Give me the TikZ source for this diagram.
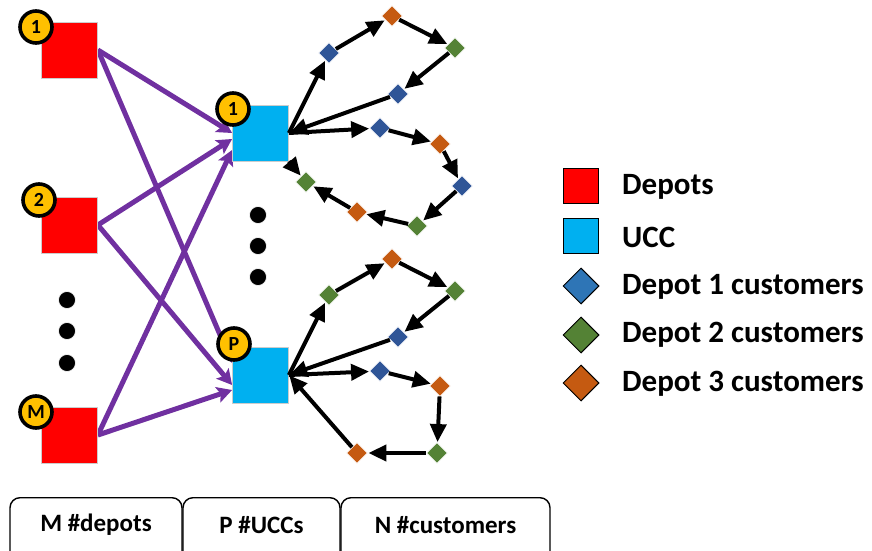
\documentclass[tikz,border=0pt]{standalone}
\usepackage{fontspec}
\setmainfont{Carlito}
\usetikzlibrary{shapes.geometric,arrows.meta,calc}
\definecolor{depotred}{HTML}{FF0000}
\definecolor{ucccyan}{HTML}{00B0F0}
\definecolor{badgeyel}{HTML}{FFC000}
\definecolor{purp}{HTML}{7030A0}
\definecolor{cblue}{HTML}{2F5597}
\definecolor{cgreen}{HTML}{548235}
\definecolor{corange}{HTML}{C55A11}
\definecolor{lblue}{HTML}{2E75B6}
\tikzset{
  depot/.style={rectangle, fill=depotred, draw=black!20, line width=0.8pt, minimum size=56pt, inner sep=0pt},
  ucc/.style={rectangle, fill=ucccyan, draw=black!20, line width=0.8pt, minimum size=56pt, inner sep=0pt},
  badge/.style={circle, fill=badgeyel, draw=black, line width=3.6pt, minimum size=32pt, inner sep=0pt, font=\fontsize{20}{20}\selectfont\bfseries},
  cust/.style={diamond, draw=white, line width=0.8pt, minimum width=21pt, minimum height=21pt, inner sep=0pt},
  cb/.style={cust, fill=cblue},
  cg/.style={cust, fill=cgreen},
  co/.style={cust, fill=corange},
  dotc/.style={circle, fill=black, draw=white, line width=0.6pt, minimum size=17pt, inner sep=0pt},
  parr/.style={draw=purp, line width=5pt, -{Stealth[length=15pt,width=16pt,inset=3pt]}},
  barr/.style={draw=black, line width=4pt, -{Triangle[length=18pt,width=16pt]}, shorten >=0.5pt},
  legsq/.style={rectangle, draw=black, line width=1pt, minimum size=35pt, inner sep=0pt},
  legdi/.style={diamond, draw=black, line width=1pt, minimum width=36pt, minimum height=36pt, inner sep=0pt},
  legtxt/.style={anchor=west, inner sep=0pt, font=\fontsize{31}{31}\selectfont\bfseries},
  boxst/.style={rectangle, rounded corners=10pt, draw=black, line width=1.4pt, minimum height=70pt, anchor=north, inner sep=0pt},
  boxtxt/.style={inner sep=0pt, font=\fontsize{25}{25}\selectfont\bfseries}
}
\begin{document}
\begin{tikzpicture}[x=1pt,y=-1pt]
\useasboundingbox (0,0) rectangle (872,551);
% depots and UCCs
\node[depot] (d1) at (69.5,50) {};
\node[depot] (d2) at (69.5,225) {};
\node[depot] (dm) at (69.5,435) {};
\node[ucc] (u1) at (260.5,133) {};
\node[ucc] (up) at (260.5,375) {};
% purple arrows
\draw[parr] (d1.east) -- ([yshift=0pt]u1.west);
\draw[parr] (d2.east) -- ([yshift=-6pt]u1.west);
\draw[parr] (dm.east) -- ([yshift=-17pt]u1.west);
\draw[parr] (d1.east) -- ([yshift=12pt]up.west);
\draw[parr] (d2.east) -- ([yshift=-10pt]up.west);
\draw[parr] (dm.east) -- ([yshift=-15pt]up.west);
% redraw squares on top
\node[depot] at (d1) {};
\node[depot] at (d2) {};
\node[depot] at (dm) {};
\node[ucc] at (u1) {};
\node[ucc] at (up) {};
% badges
\node[badge] (bd1) at (36,27) {1};
\node[badge] (bd2) at (39,200) {2};
\node[badge] (bdm) at (36,412) {M};
\node[badge] (bu1) at (233,109) {1};
\node[badge] (bup) at (234,344) {P};
% dots
\node[dotc] (l1) at (67,300) {};
\node[dotc] (l2) at (67,331) {};
\node[dotc] (l3) at (67,363) {};
\node[dotc] (m1) at (258,215) {};
\node[dotc] (m2) at (258,246) {};
\node[dotc] (m3) at (258,277) {};
% cluster 1
\node[cb] (a1) at (329,53) {};
\node[co] (a2) at (392,16) {};
\node[cg] (a3) at (455,48) {};
\node[cb] (a4) at (398,94) {};
\node[cb] (b1) at (380,128) {};
\node[co] (b2) at (440,144) {};
\node[cb] (b3) at (462,186) {};
\node[cg] (b4) at (417,226) {};
\node[co] (b5) at (357,212) {};
\node[cg] (b6) at (306,182) {};
\draw[barr] (u1.east) -- (a1);
\draw[barr] (a1) -- (a2);
\draw[barr] (a2) -- (a3);
\draw[barr] (a3) -- (a4);
\draw[barr] (a4) -- (u1.east);
\draw[barr] (u1.east) -- (b1);
\draw[barr] (b1) -- (b2);
\draw[barr] (b2) -- (b3);
\draw[barr] (b3) -- (b4);
\draw[barr] (b4) -- (b5);
\draw[barr] (b5) -- (b6);
\draw[barr] (u1.south east) -- (b6);
% cluster 2
\node[cg] (c1) at (329,295) {};
\node[co] (c2) at (392,259) {};
\node[cg] (c3) at (455,291) {};
\node[cb] (c4) at (398,337) {};
\node[cb] (e1) at (380,371) {};
\node[co] (e2) at (440,386) {};
\node[cg] (e3) at (437,453) {};
\node[co] (e4) at (357,453) {};
\draw[barr] (up.east) -- (c1);
\draw[barr] (c1) -- (c2);
\draw[barr] (c2) -- (c3);
\draw[barr] (c3) -- (c4);
\draw[barr] (c4) -- (up.east);
\draw[barr] (up.east) -- (e1);
\draw[barr] (e1) -- (e2);
\draw[barr] (e2) -- (e3);
\draw[barr] (e3) -- (e4);
\draw[barr] (e4) -- (up.east);
% legend
\node[legsq, fill=depotred] (lg1) at (580.5,186) {};
\node[legsq, fill=ucccyan] (lg2) at (580.5,236) {};
\node[legdi, fill=lblue] (lg3) at (581,286) {};
\node[legdi, fill=cgreen] (lg4) at (581,335) {};
\node[legdi, fill=corange] (lg5) at (581,383) {};
\node[legtxt] (t1) at (622,187) {Depots};
\node[legtxt] (t2) at (622,237) {UCC};
\node[legtxt] (t3) at (622,287) {Depot 1 customers};
\node[legtxt] (t4) at (622,335) {Depot 2 customers};
\node[legtxt] (t5) at (622,384) {Depot 3 customers};
% bottom boxes
\node[boxst, minimum width=172pt] (k1) at (96,497) {};
\node[boxst, minimum width=157pt] (k2) at (261.5,497) {};
\node[boxst, minimum width=209pt] (k3) at (445.5,497) {};
\node[boxtxt] (k1t) at (96,525) {M \#depots};
\node[boxtxt] (k2t) at (261.5,525) {P \#UCCs};
\node[boxtxt] (k3t) at (445.5,525) {N \#customers};
\end{tikzpicture}
\end{document}
